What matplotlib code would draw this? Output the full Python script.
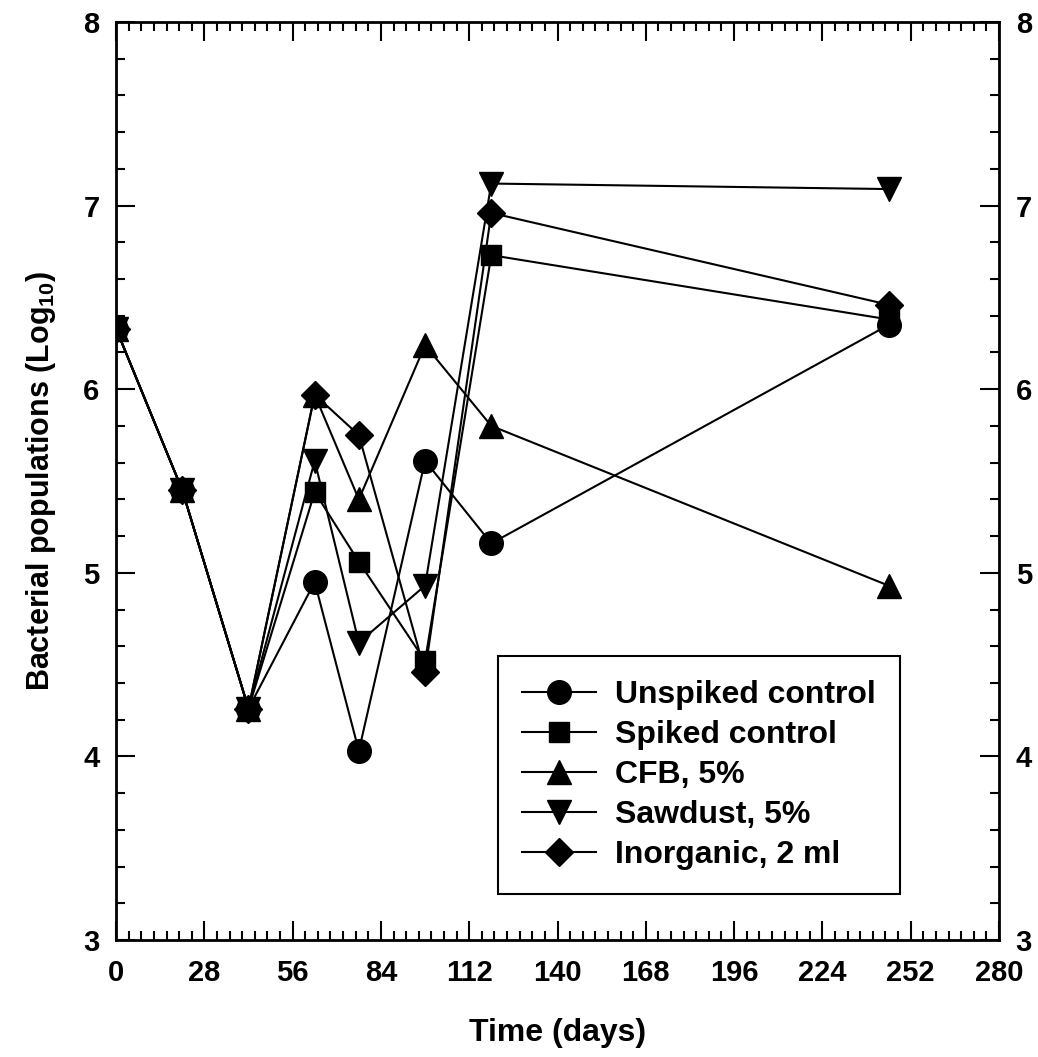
import matplotlib
matplotlib.use('Agg')
import matplotlib.pyplot as plt
from matplotlib.ticker import MultipleLocator

plt.rcParams['font.family'] = ['Liberation Sans', 'DejaVu Sans']
plt.rcParams['font.weight'] = 'bold'
plt.rcParams['mathtext.fontset'] = 'custom'
plt.rcParams['mathtext.rm'] = 'Liberation Sans:bold'
plt.rcParams['mathtext.default'] = 'rm'

# sampling days
days = [0, 21, 42, 63, 77, 98, 119, 245]

# log10 bacterial populations
unspiked = [6.33, 5.45, 4.26, 4.95, 4.03, 5.61, 5.16, 6.35]
spiked = [6.33, 5.45, 4.26, 5.44, 5.06, 4.52, 6.73, 6.38]
cfb = [6.33, 5.45, 4.26, 5.97, 5.40, 6.24, 5.80, 4.93]
sawdust = [6.33, 5.45, 4.26, 5.61, 4.62, 4.93, 7.12, 7.09]
inorganic = [6.33, 5.45, 4.26, 5.97, 5.75, 4.46, 6.96, 6.46]

labels = ['Unspiked control', 'Spiked control', 'CFB, 5%', 'Sawdust, 5%', 'Inorganic, 2 ml']
series = [unspiked, spiked, cfb, sawdust, inorganic]
markers = ['o', 's', '^', 'v', 'D']
msizes = [17, 14, 17, 17, 14]

fig = plt.figure(figsize=(10.38, 10.57), dpi=100)
ax = fig.add_axes([0.1118, 0.1107, 0.8506, 0.8685])

for vals, lab, m, ms in zip(series, labels, markers, msizes):
    ax.plot(days, vals, color='black', lw=1.5, marker=m, markersize=ms, label=lab)

ax.set_xlim(0, 280)
ax.set_ylim(3, 8)
ax.xaxis.set_major_locator(MultipleLocator(28))
ax.xaxis.set_minor_locator(MultipleLocator(4))
ax.yaxis.set_major_locator(MultipleLocator(1))
ax.yaxis.set_minor_locator(MultipleLocator(0.2))

ax.tick_params(which='both', direction='in', top=True, right=True, labelright=True, width=1.5)
ax.tick_params(which='major', length=14, labelsize=21)
ax.tick_params(which='minor', length=6.5)
ax.tick_params(axis='x', pad=14)
ax.tick_params(axis='y', pad=12)
for lbl in ax.get_xticklabels() + ax.get_yticklabels():
    lbl.set_fontweight('bold')
for sp in ax.spines.values():
    sp.set_linewidth(2)

ax.set_xlabel('Time (days)', fontsize=23, fontweight='bold', labelpad=22)
ax.set_ylabel(r'Bacterial populations (Log$_{10}$)', fontsize=22, fontweight='bold', labelpad=18)

leg = ax.legend(loc='upper left', bbox_to_anchor=(0.433, 0.309), fontsize=23,
                frameon=True, fancybox=False, edgecolor='black', framealpha=1,
                handlelength=2.3, handletextpad=0.6, labelspacing=0.31,
                borderpad=0.75, borderaxespad=0)
leg.get_frame().set_linewidth(1.5)
for t in leg.get_texts():
    t.set_fontweight('bold')

fig.savefig('out.png', dpi=100)
